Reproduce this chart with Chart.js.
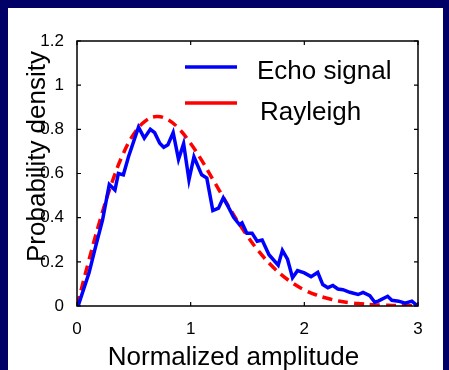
<!DOCTYPE html>
<html>
<head>
<meta charset="utf-8">
<script src="https://cdn.jsdelivr.net/npm/chart.js@4"></script>
<style>
  html, body { margin: 0; padding: 0; background: #000066; }
  body { width: 449px; height: 370px; position: relative; overflow: hidden; }
  #pdf { position: absolute; left: 8px; top: 8px; background: #fff; }
</style>
</head>
<body>
<canvas id="pdf" width="435" height="362"></canvas>
<script>
// measured histogram of the echo amplitude
const echoAmp = [0.01, 0.106, 0.157, 0.225, 0.284, 0.334, 0.364, 0.408, 0.453, 0.541,
  0.592, 0.645, 0.683, 0.728, 0.763, 0.80, 0.846, 0.893, 0.938, 0.985,
  1.029, 1.097, 1.142, 1.195, 1.245, 1.287, 1.33, 1.378, 1.43, 1.452,
  1.494, 1.54, 1.585, 1.629, 1.689, 1.77, 1.807, 1.852, 1.896, 1.94,
  2.0, 2.059, 2.118, 2.162, 2.207, 2.251, 2.295, 2.34, 2.4, 2.473,
  2.517, 2.576, 2.62, 2.65, 2.733, 2.77, 2.83, 2.887, 2.946, 2.99];
const echoDensity = [0.0, 0.15, 0.255, 0.39, 0.55, 0.525, 0.60, 0.594, 0.676, 0.81,
  0.76, 0.80, 0.785, 0.737, 0.719, 0.73, 0.785, 0.664, 0.735, 0.571,
  0.676, 0.594, 0.579, 0.432, 0.443, 0.49, 0.45, 0.402, 0.368, 0.376,
  0.33, 0.33, 0.293, 0.299, 0.232, 0.185, 0.252, 0.212, 0.128, 0.16,
  0.15, 0.133, 0.152, 0.097, 0.083, 0.093, 0.077, 0.074, 0.062, 0.052,
  0.062, 0.047, 0.017, 0.022, 0.044, 0.026, 0.022, 0.013, 0.022, 0.003];

// Rayleigh fit
const rayAmp = [0, 0.1, 0.2, 0.3, 0.4, 0.5, 0.6, 0.7, 0.8, 0.9, 1.0, 1.1, 1.2, 1.3, 1.4, 1.5,
  1.6, 1.7, 1.8, 1.9, 2.0, 2.1, 2.2, 2.3, 2.4, 2.5, 2.6, 2.7, 2.8, 2.9, 3.0];
const rayDensity = [0, 0.198, 0.384, 0.548, 0.682, 0.779, 0.837, 0.858, 0.844, 0.801, 0.736,
  0.657, 0.569, 0.481, 0.394, 0.316, 0.247, 0.189, 0.141, 0.103, 0.073,
  0.051, 0.035, 0.023, 0.015, 0.010, 0.006, 0.004, 0.002, 0.001, 0.001];

const xTicks = [0, 1, 2, 3];
const yTicks = [0, 0.2, 0.4, 0.6, 0.8, 1, 1.2];
const seriesNames = ["Echo signal", "Rayleigh"];
const xTitle = "Normalized amplitude";
const yTitle = "Probability density";

const FONT = "'Liberation Sans', Arial, sans-serif";

const toPoints = (xs, ys) => xs.map((x, i) => ({ x: x, y: ys[i] }));
const tickText = (v) => String(Math.round(v * 10) / 10);

// box, inward ticks on all four sides, legend and axis titles
const frame = {
  id: "frame",
  afterDraw(chart) {
    const { ctx, chartArea: a, scales } = chart;
    ctx.save();
    ctx.strokeStyle = "#000";
    ctx.lineWidth = 1.5;
    ctx.strokeRect(a.left, a.top, a.right - a.left, a.bottom - a.top);

    ctx.lineWidth = 1.2;
    ctx.beginPath();
    xTicks.forEach((v) => {
      const px = scales.x.getPixelForValue(v);
      ctx.moveTo(px, a.bottom); ctx.lineTo(px, a.bottom - 4);
      ctx.moveTo(px, a.top); ctx.lineTo(px, a.top + 4);
    });
    yTicks.forEach((v) => {
      const py = scales.y.getPixelForValue(v);
      ctx.moveTo(a.left, py); ctx.lineTo(a.left + 4, py);
      ctx.moveTo(a.right, py); ctx.lineTo(a.right - 4, py);
    });
    ctx.stroke();

    // legend
    const rows = [
      { color: "#0000ff", y: 59, textX: 249, base: 71 },
      { color: "#ff0000", y: 95, textX: 252, base: 112 },
    ];
    ctx.lineWidth = 3.5;
    ctx.font = "26px " + FONT;
    ctx.fillStyle = "#000";
    ctx.textAlign = "left";
    ctx.textBaseline = "alphabetic";
    rows.forEach((r, i) => {
      ctx.strokeStyle = r.color;
      ctx.beginPath();
      ctx.moveTo(177, r.y); ctx.lineTo(229, r.y);
      ctx.stroke();
      ctx.fillText(seriesNames[i], r.textX, r.base);
    });

    // axis titles
    ctx.textAlign = "center";
    ctx.fillText(xTitle, 225.5, 357);
    ctx.translate(37, 148.5);
    ctx.rotate(-Math.PI / 2);
    ctx.fillText(yTitle, 0, 0);
    ctx.restore();
  },
};

const ctx = document.getElementById("pdf").getContext("2d");
const pdfChart = new Chart(ctx, {
  type: "line",
  data: {
    datasets: [
      {
        label: seriesNames[0],
        data: toPoints(echoAmp, echoDensity),
        borderColor: "#0000ff",
        borderWidth: 3.5,
        pointRadius: 0,
        tension: 0,
      },
      {
        label: seriesNames[1],
        data: toPoints(rayAmp, rayDensity),
        borderColor: "#ff0000",
        borderWidth: 3.5,
        borderDash: [10, 6],
        pointRadius: 0,
        tension: 0.4,
      },
    ],
  },
  options: {
    responsive: false,
    animation: false,
    layout: { padding: { top: 33, right: 25, left: 0, bottom: 0 } },
    plugins: { legend: { display: false }, tooltip: { enabled: false } },
    scales: {
      x: {
        type: "linear",
        min: 0,
        max: 3,
        afterBuildTicks: (s) => { s.ticks = xTicks.map((v) => ({ value: v })); },
        afterFit: (s) => { s.height = 64; },
        ticks: { color: "#000", font: { family: FONT, size: 17 }, padding: 5, callback: tickText },
        grid: { display: false },
        border: { display: false },
      },
      y: {
        min: 0,
        max: 1.2,
        afterBuildTicks: (s) => { s.ticks = yTicks.map((v) => ({ value: v })); },
        afterFit: (s) => { s.width = 69; },
        ticks: { color: "#000", font: { family: FONT, size: 17 }, padding: 5, callback: tickText },
        grid: { display: false },
        border: { display: false },
      },
    },
  },
  plugins: [frame],
});
</script>
</body>
</html>
